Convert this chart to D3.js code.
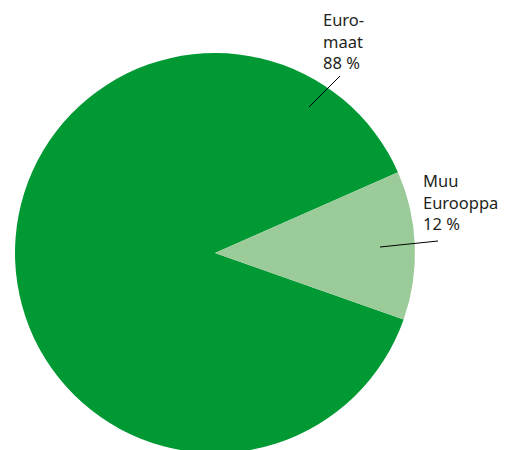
<!DOCTYPE html>
<html>
<head>
	<meta charset="utf-8">
	<title>Pie</title>
	<style>
		body { margin: 0; background: #fff; }
		.label text {
			font-family: "Noto Sans", sans-serif;
			font-size: 16.5px;
			fill: #231f20;
		}
		.leader {
			stroke: #000;
			stroke-width: 1;
		}
	</style>
</head>
<body>
	<svg width="511" height="450"></svg>
	<script src="https://d3js.org/d3.v7.min.js"></script>
	<script>
		// data
		var categories = ["Euromaat", "Muu Eurooppa"];
		var values = [88, 12];
		var labelLines = [["Euro-", "maat", "88 %"], ["Muu", "Eurooppa", "12 %"]];
		var colors = ["#009933", "#9bcb99"];

		var svg = d3.select("svg"),
			cx = 215, cy = 253, r = 200;

		var g = svg.append("g").attr("transform", "translate(" + cx + "," + cy + ")");

		var pie = d3.pie().sort(null)
			.startAngle(109.4 * Math.PI / 180)
			.endAngle((109.4 + 360) * Math.PI / 180);
		var arc = d3.arc().innerRadius(0).outerRadius(r);

		var arcs = pie(values);

		g.selectAll("path")
			.data(arcs)
			.enter().append("path")
			.attr("d", arc)
			.attr("fill", function(d, i) { return colors[i]; });

		// leader lines: from inside the slice to the label
		var leaders = [
			{inner: 0.77, outer: 1.0, dx: 31, dy: -31},
			{inner: 0.77, outer: 1.0, dx: 58, dy: -6}
		];
		var labelPos = [[323, 26], [423, 187]];

		arcs.forEach(function(d, i) {
			var a = (d.startAngle + d.endAngle) / 2;
			var start;
			if (i === 0) {
				start = [309 - cx, 107 - cy];
			} else {
				start = [380 - cx, 247 - cy];
			}
			g.append("line")
				.attr("class", "leader")
				.attr("x1", start[0]).attr("y1", start[1])
				.attr("x2", start[0] + leaders[i].dx).attr("y2", start[1] + leaders[i].dy);

			var t = svg.append("g").attr("class", "label")
				.append("text")
				.attr("x", labelPos[i][0])
				.attr("y", labelPos[i][1]);
			labelLines[i].forEach(function(s, j) {
				t.append("tspan")
					.attr("x", labelPos[i][0])
					.attr("y", labelPos[i][1] + j * 21.5)
					.text(s);
			});
		});
	</script>
</body>
</html>
